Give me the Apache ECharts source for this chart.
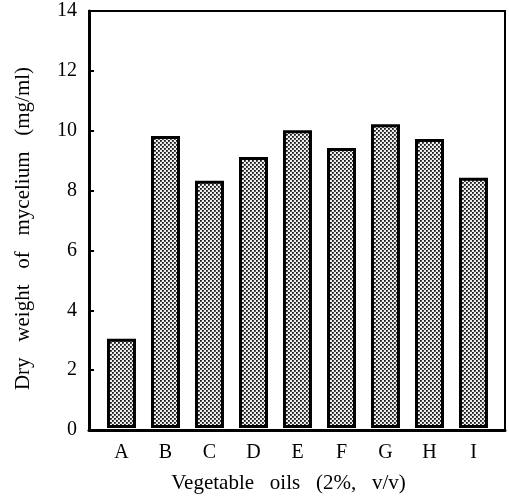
<!DOCTYPE html>
<html>
<head>
<meta charset="utf-8">
<script src="https://cdn.jsdelivr.net/npm/echarts@6/dist/echarts.min.js"></script>
<style>html,body{margin:0;padding:0;background:#fff}#c{width:509px;height:499px}</style>
</head>
<body>
<div id="c"></div>
<script>
const categories = ['A','B','C','D','E','F','G','H','I'];
const dryWeight = [3.0, 9.8, 8.3, 9.1, 10.0, 9.4, 10.2, 9.7, 8.4];
const yTicks = [0, 2, 4, 6, 8, 10, 12, 14];

function makePattern() {
  const c = document.createElement('canvas');
  c.width = 4; c.height = 4;
  const g = c.getContext('2d');
  g.fillStyle = '#eeeeee';
  g.fillRect(0, 0, 4, 4);
  g.fillStyle = '#1a1a1a';
  g.fillRect(0, 0, 1.8, 1.8);
  g.fillRect(2, 2, 1.8, 1.8);
  return c;
}

const font = '"Liberation Serif", "DejaVu Serif", serif';
const chart = echarts.init(document.getElementById('c'));
chart.setOption({
  animation: false,
  backgroundColor: '#fff',
  grid: [
    {left: 89, top: 11, right: 4, bottom: 69, show: true, borderColor: '#000', borderWidth: 2, backgroundColor: 'transparent'},
    {left: 99.5, top: 11, right: 13.5, bottom: 69}
  ],
  xAxis: [
    {gridIndex: 0, type: 'value', min: 0, max: 1, show: true,
     axisLine: {show: true, onZero: false, lineStyle: {color: '#000', width: 3}},
     axisTick: {show: false}, axisLabel: {show: false}, splitLine: {show: false}},
    {gridIndex: 1, type: 'category', data: categories,
     axisLine: {show: false}, axisTick: {show: false}, splitLine: {show: false},
     axisLabel: {color: '#000', fontFamily: font, fontSize: 20, margin: 15},
     name: 'Vegetable   oils   (2%,   v/v)', nameLocation: 'middle', nameGap: 45,
     nameTextStyle: {color: '#000', fontFamily: font, fontSize: 21, padding: [0, 18, 0, 0]}}
  ],
  yAxis: [
    {gridIndex: 0, type: 'value', min: 0, max: 14, interval: 2,
     axisLine: {show: true, lineStyle: {color: '#000', width: 3}},
     axisTick: {show: true, inside: true, length: 5, lineStyle: {color: '#000', width: 2}},
     axisLabel: {color: '#000', fontFamily: font, fontSize: 20, margin: 12,
       formatter: v => yTicks.includes(v) ? String(v) : ''},
     splitLine: {show: false},
     name: 'Dry   weight   of   mycelium   (mg/ml)', nameLocation: 'middle', nameGap: 55,
     nameTextStyle: {color: '#000', fontFamily: font, fontSize: 21, padding: [0, 16, 0, 0]}},
    {gridIndex: 1, type: 'value', min: 0, max: 14, interval: 2, show: false}
  ],
  series: [{
    type: 'bar', xAxisIndex: 1, yAxisIndex: 1, data: dryWeight, barWidth: 29,
    itemStyle: {color: {image: makePattern(), repeat: 'repeat'}, borderColor: '#000', borderWidth: 3}
  }]
});
</script>
</body>
</html>
